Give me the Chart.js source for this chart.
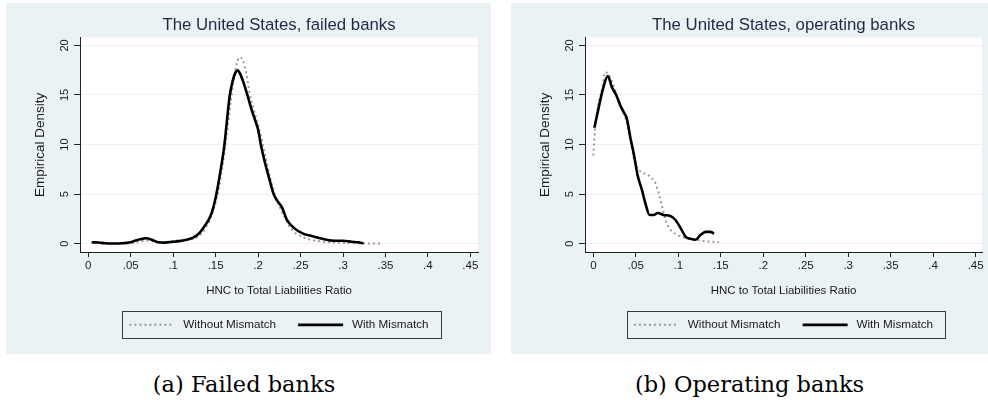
<!DOCTYPE html>
<html>
<head>
<meta charset="utf-8">
<script src="https://cdn.jsdelivr.net/npm/chart.js@4.4.1/dist/chart.umd.min.js"></script>
<style>
  body { margin: 0; background: #fff; width: 988px; height: 403px; position: relative; overflow: hidden; }
  .panel { position: absolute; top: 3px; height: 351px; background: #eaf2f3; }
  .panel canvas { display: block; }
  .caption { position: absolute; top: 371px; font-family: "DejaVu Serif", serif; font-size: 22.5px; line-height: 26px; text-align: center; color: #000; }
</style>
</head>
<body>
<div class="panel" style="left:6px;width:485px"><canvas id="failed" width="485" height="351"></canvas></div>
<div class="panel" style="left:511px;width:477px"><canvas id="operating" width="477" height="351"></canvas></div>
<div class="caption" style="left:0px;width:488px">(a) Failed banks</div>
<div class="caption" style="left:511px;width:477px">(b) Operating banks</div>
<script>
// axis ticks (Stata style labels)
const xTicks = [0, 0.05, 0.1, 0.15, 0.2, 0.25, 0.3, 0.35, 0.4, 0.45];
const xTickLabels = ['0', '.05', '.1', '.15', '.2', '.25', '.3', '.35', '.4', '.45'];
const yTicks = [0, 5, 10, 15, 20];
const yTickLabels = ['0', '5', '10', '15', '20'];
const seriesNames = ['Without Mismatch', 'With Mismatch'];

// failed banks, without mismatch (grey dotted)
const failedWithoutX = [0.004, 0.015, 0.03, 0.045, 0.055, 0.062, 0.07, 0.078, 0.088, 0.1, 0.11, 0.12, 0.127, 0.133, 0.138, 0.143, 0.148, 0.153, 0.158, 0.163, 0.168, 0.172, 0.176, 0.179, 0.182, 0.186, 0.19, 0.195, 0.2, 0.205, 0.21, 0.215, 0.22, 0.226, 0.232, 0.238, 0.245, 0.252, 0.26, 0.268, 0.278, 0.29, 0.305, 0.32, 0.335, 0.345];
const failedWithoutY = [0.1, 0.05, 0.02, 0.05, 0.12, 0.25, 0.3, 0.2, 0.15, 0.3, 0.35, 0.45, 0.6, 1.0, 1.6, 2.4, 3.6, 5.3, 7.8, 11.0, 14.5, 17.0, 18.5, 18.8, 18.5, 17.2, 15.2, 13.5, 12.0, 10.2, 8.2, 6.4, 4.9, 3.6, 2.5, 1.6, 1.0, 0.7, 0.45, 0.3, 0.2, 0.12, 0.08, 0.05, 0.02, 0.02];

// failed banks, with mismatch (black)
const failedWithX = [0.004, 0.012, 0.02, 0.03, 0.04, 0.048, 0.055, 0.061, 0.068, 0.075, 0.082, 0.09, 0.1, 0.11, 0.118, 0.125, 0.131, 0.137, 0.1417, 0.146, 0.1508, 0.155, 0.1602, 0.1635, 0.1665, 0.17, 0.173, 0.1759, 0.179, 0.183, 0.1877, 0.192, 0.1967, 0.2, 0.2034, 0.208, 0.213, 0.2183, 0.222, 0.228, 0.234, 0.242, 0.2536, 0.262, 0.273, 0.289, 0.3, 0.31, 0.318, 0.324];
const failedWithY = [0.15, 0.12, 0.05, 0.03, 0.05, 0.12, 0.3, 0.45, 0.55, 0.4, 0.15, 0.12, 0.2, 0.3, 0.45, 0.7, 1.1, 1.8, 2.4, 3.3, 5.0, 7.0, 9.9, 12.6, 14.9, 16.4, 17.2, 17.5, 17.1, 16.2, 14.9, 13.6, 12.4, 11.5, 9.9, 8.2, 6.6, 5.0, 4.4, 3.7, 2.4, 1.6, 1.0, 0.8, 0.55, 0.3, 0.3, 0.2, 0.15, 0.05];

// operating banks, without mismatch (grey dotted)
const operatingWithoutX = [0, 0.002, 0.004, 0.007, 0.01, 0.014, 0.0175, 0.0237, 0.0296, 0.0375, 0.0434, 0.0494, 0.0553, 0.065, 0.073, 0.077, 0.081, 0.085, 0.091, 0.0987, 0.1066, 0.12, 0.13, 0.148];
const operatingWithoutY = [8.9, 11.5, 13.1, 14.5, 15.5, 17.3, 17.1, 16.0, 14.3, 12.8, 10.5, 8.1, 7.3, 6.9, 6.1, 5.1, 3.75, 2.4, 1.4, 0.9, 0.63, 0.4, 0.27, 0.17];

// operating banks, with mismatch (black)
const operatingWithX = [0.0012, 0.006, 0.011, 0.017, 0.0218, 0.0269, 0.0316, 0.0355, 0.0395, 0.0434, 0.0482, 0.0521, 0.0573, 0.0612, 0.0663, 0.071, 0.0757, 0.0828, 0.0908, 0.0967, 0.1026, 0.1085, 0.1144, 0.1204, 0.1263, 0.1322, 0.138, 0.142];
const operatingWithY = [11.7, 13.6, 15.5, 16.9, 15.8, 15.0, 14.0, 13.3, 12.6, 10.8, 8.8, 6.9, 5.4, 4.1, 2.9, 2.9, 3.1, 2.9, 2.8, 2.4, 1.6, 0.73, 0.5, 0.4, 0.9, 1.2, 1.2, 1.03];

const FONT = 'Liberation Sans, Arial, Helvetica, sans-serif';
const SAMPLE_W = 45;
const pts = (xs, ys) => xs.map((x, i) => ({ x: x, y: ys[i] }));

// white plot region like Stata
const plotBg = {
  id: 'plotBg',
  beforeDraw(chart) {
    const { ctx, chartArea: a } = chart;
    ctx.save();
    ctx.fillStyle = '#fff';
    ctx.fillRect(a.left, a.top, a.right - a.left, a.bottom - a.top);
    ctx.restore();
  }
};

// box round the legend + the line samples (dash kept)
const legendFrame = {
  id: 'legendFrame',
  afterDraw(chart) {
    const hb = chart.legend && chart.legend.legendHitBoxes;
    if (!hb || !hb.length) return;
    const ctx = chart.ctx;
    const last = hb[hb.length - 1];
    const l = Math.round(hb[0].left - 7);
    const r = Math.round(last.left + last.width + 12);
    const cy = hb[0].top + hb[0].height / 2;
    const t = Math.round(cy - 13.5);
    ctx.save();
    ctx.strokeStyle = '#3a3a3a';
    ctx.lineWidth = 1;
    ctx.setLineDash([]);
    ctx.strokeRect(l + 0.5, t + 0.5, r - l, 27);
    hb.forEach((box, i) => {
      const ds = chart.data.datasets[i];
      const y = box.top + box.height / 2;
      ctx.beginPath();
      ctx.strokeStyle = ds.borderColor;
      ctx.lineWidth = ds.borderWidth;
      ctx.setLineDash(ds.borderDash || []);
      ctx.moveTo(box.left, y);
      ctx.lineTo(box.left + SAMPLE_W, y);
      ctx.stroke();
    });
    ctx.restore();
  }
};

function hiddenSamples(chart) {
  const items = Chart.defaults.plugins.legend.labels.generateLabels(chart);
  items.forEach(it => { it.strokeStyle = 'rgba(0,0,0,0)'; it.fillStyle = 'rgba(0,0,0,0)'; });
  return items.sort((a, b) => a.datasetIndex - b.datasetIndex);
}

function makeChart(id, title, xMax, padRight, withoutPts, withPts) {
  return new Chart(document.getElementById(id), {
    type: 'line',
    data: {
      datasets: [
        {
          label: seriesNames[0],
          data: withoutPts,
          borderColor: '#9a9a9a',
          borderWidth: 2,
          borderDash: [2, 3],
          pointRadius: 0,
          tension: 0.3,
          cubicInterpolationMode: 'monotone',
          order: 1
        },
        {
          label: seriesNames[1],
          data: withPts,
          borderColor: '#000',
          borderWidth: 2.6,
          borderJoinStyle: 'round',
          pointRadius: 0,
          tension: 0.3,
          cubicInterpolationMode: 'monotone',
          order: 0
        }
      ]
    },
    options: {
      responsive: false,
      animation: false,
      events: [],
      layout: { padding: { top: 12.4, right: padRight, bottom: 13.3, left: 0 } },
      plugins: {
        title: {
          display: true,
          text: title,
          fullSize: false,
          color: '#1e2b47',
          font: { family: FONT, size: 16.8, weight: 'normal' },
          padding: { top: 0, bottom: 2.1 }
        },
        legend: {
          position: 'bottom',
          fullSize: false,
          labels: {
            usePointStyle: true,
            pointStyle: 'line',
            pointStyleWidth: SAMPLE_W + 3,
            padding: 22,
            color: '#1a1a1a',
            font: { family: FONT, size: 11.7 },
            generateLabels: hiddenSamples
          }
        },
        tooltip: { enabled: false }
      },
      scales: {
        x: {
          type: 'linear',
          min: -0.0098,
          max: xMax,
          afterBuildTicks: s => { s.ticks = xTicks.map(v => ({ value: v })); },
          afterFit: s => { s.height = 45; },
          ticks: {
            padding: 2,
            color: '#1a1a1a',
            font: { family: FONT, size: 11.5 },
            maxRotation: 0,
            autoSkip: false,
            callback: (v, i) => xTickLabels[i]
          },
          grid: { drawOnChartArea: false, tickColor: '#222', tickLength: 5 },
          border: { color: '#222', width: 1 },
          title: {
            display: true,
            text: 'HNC to Total Liabilities Ratio',
            color: '#1a1a1a',
            font: { family: FONT, size: 11.5, lineHeight: 1 },
            padding: { top: 0, bottom: 0.25 }
          }
        },
        y: {
          min: -0.83,
          max: 20.78,
          afterBuildTicks: s => { s.ticks = yTicks.map(v => ({ value: v })); },
          afterFit: s => { s.width = 74; },
          ticks: {
            minRotation: 90,
            maxRotation: 90,
            crossAlign: 'center',
            padding: 3,
            color: '#1a1a1a',
            font: { family: FONT, size: 11 },
            callback: (v, i) => yTickLabels[i]
          },
          grid: { color: '#eaf2f3', lineWidth: 1, tickColor: '#222', tickLength: 6 },
          border: { color: '#222', width: 1 },
          title: {
            display: true,
            text: 'Empirical Density',
            color: '#1a1a1a',
            font: { family: FONT, size: 13.5 },
            padding: { top: 25.9, bottom: 0 }
          }
        }
      }
    },
    plugins: [plotBg, legendFrame]
  });
}

makeChart('failed', 'The United States, failed banks', 0.459, 13,
  pts(failedWithoutX, failedWithoutY), pts(failedWithX, failedWithY));
makeChart('operating', 'The United States, operating banks', 0.4575, 6,
  pts(operatingWithoutX, operatingWithoutY), pts(operatingWithX, operatingWithY));
</script>
</body>
</html>
